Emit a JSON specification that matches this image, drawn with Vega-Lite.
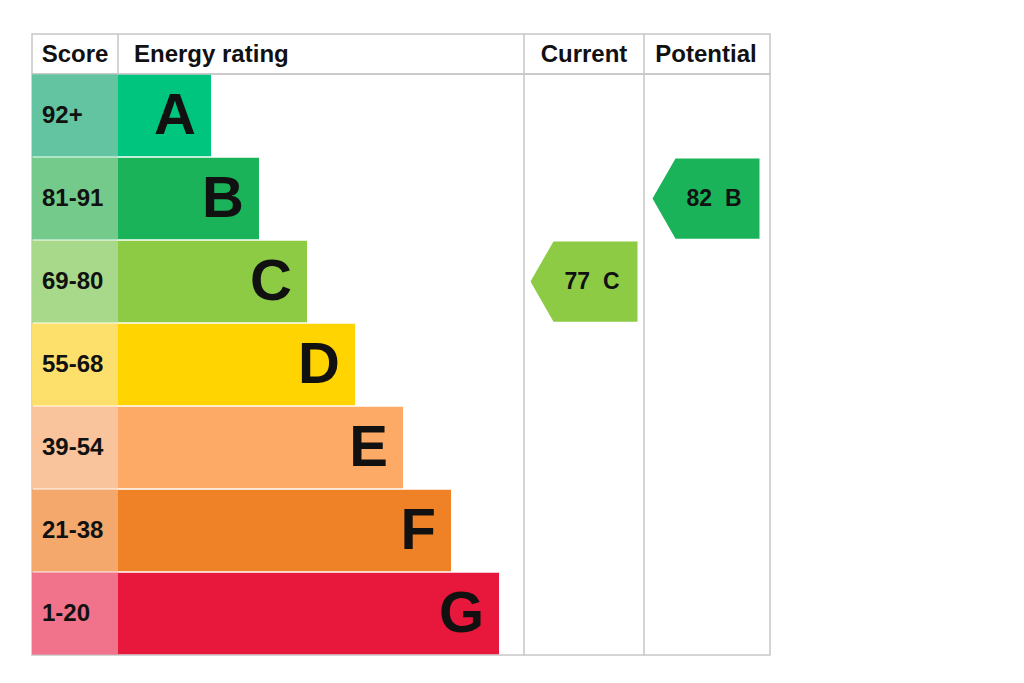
{
  "$schema": "https://vega.github.io/schema/vega-lite/v6.json",
  "padding": {"left": 31, "top": 32, "right": 0, "bottom": 0},
  "background": "white",
  "spacing": 0,
  "bounds": "flush",
  "config": {
    "view": {"stroke": "#c6c6c6", "strokeWidth": 1.5},
    "font": "Liberation Sans, Arial, sans-serif"
  },
  "datasets": {
    "columns": [
      {"column": "Score", "start": 0, "end": 86, "center": 43},
      {"column": "Energy rating", "start": 86, "end": 492, "center": 289},
      {"column": "Current", "start": 492, "end": 612, "center": 552},
      {"column": "Potential", "start": 612, "end": 738, "center": 674}
    ],
    "bands": [
      {"rating": "A", "score": "92+", "scoreColumn": "Score", "length": 179},
      {"rating": "B", "score": "81-91", "scoreColumn": "Score", "length": 227},
      {"rating": "C", "score": "69-80", "scoreColumn": "Score", "length": 275},
      {"rating": "D", "score": "55-68", "scoreColumn": "Score", "length": 323},
      {"rating": "E", "score": "39-54", "scoreColumn": "Score", "length": 371},
      {"rating": "F", "score": "21-38", "scoreColumn": "Score", "length": 419},
      {"rating": "G", "score": "1-20", "scoreColumn": "Score", "length": 467}
    ],
    "arrows": [
      {"rating": "C", "column": "Current", "label": "77\u00a0\u00a0C"},
      {"rating": "B", "column": "Potential", "label": "82\u00a0\u00a0B"}
    ]
  },
  "vconcat": [
    {
      "width": 738,
      "height": 40,
      "data": {"name": "columns"},
      "layer": [
        {
          "transform": [{"filter": "datum.start > 0"}],
          "mark": {"type": "rule", "color": "#c6c6c6", "strokeWidth": 1.5},
          "encoding": {
            "x": {"field": "start", "type": "quantitative", "scale": {"domain": [0, 738], "nice": false, "zero": false}, "axis": null}
          }
        },
        {
          "transform": [{"filter": "datum.column != 'Energy rating'"}],
          "mark": {"type": "text", "align": "center", "baseline": "middle", "fontSize": 24, "fontWeight": "bold", "color": "#111111", "dy": 1},
          "encoding": {
            "x": {"field": "center", "type": "quantitative"},
            "text": {"field": "column", "type": "nominal"}
          }
        },
        {
          "transform": [{"filter": "datum.column == 'Energy rating'"}],
          "mark": {"type": "text", "align": "left", "baseline": "middle", "fontSize": 24, "fontWeight": "bold", "color": "#111111", "dx": 16, "dy": 1},
          "encoding": {
            "x": {"field": "start", "type": "quantitative"},
            "text": {"field": "column", "type": "nominal"}
          }
        }
      ]
    },
    {
      "width": 738,
      "height": 581,
      "encoding": {
        "y": {"field": "rating", "type": "nominal", "axis": null,
              "scale": {"domain": ["A", "B", "C", "D", "E", "F", "G"], "paddingInner": 0.02, "paddingOuter": 0.01}}
      },
      "layer": [
        {
          "data": {"name": "bands"},
          "mark": {"type": "bar", "orient": "horizontal"},
          "encoding": {
            "x": {"field": "length", "type": "quantitative", "scale": {"domain": [0, 738], "nice": false, "zero": true}, "axis": null},
            "color": {"field": "rating", "type": "nominal", "legend": null,
                      "scale": {"domain": ["A", "B", "C", "D", "E", "F", "G"],
                                "range": ["#00c57f", "#1ab35a", "#8dcb45", "#ffd400", "#fcaa65", "#ef8126", "#e8173c"]}}
          }
        },
        {
          "data": {"name": "bands"},
          "transform": [
            {"lookup": "scoreColumn", "from": {"data": {"name": "columns"}, "key": "column", "fields": ["start", "end"]}}
          ],
          "mark": {"type": "rect"},
          "encoding": {
            "x": {"field": "start", "type": "quantitative"},
            "x2": {"field": "end"},
            "fill": {"field": "rating", "type": "nominal", "legend": null,
                     "scale": {"domain": ["A", "B", "C", "D", "E", "F", "G"],
                               "range": ["#62c4a0", "#74ca8b", "#a8d98a", "#fde06c", "#f9c39c", "#f4a86c", "#f0738b"]}}
          }
        },
        {
          "data": {"name": "bands"},
          "transform": [
            {"lookup": "scoreColumn", "from": {"data": {"name": "columns"}, "key": "column", "fields": ["start"]}}
          ],
          "mark": {"type": "text", "align": "left", "baseline": "middle", "fontSize": 24, "fontWeight": "bold", "color": "#111111", "dx": 10},
          "encoding": {
            "x": {"field": "start", "type": "quantitative"},
            "text": {"field": "score", "type": "nominal"}
          }
        },
        {
          "data": {"name": "bands"},
          "mark": {"type": "text", "align": "right", "baseline": "middle", "fontSize": 58, "fontWeight": "bold", "color": "#111111", "dx": -15, "dy": 1},
          "encoding": {
            "x": {"field": "length", "type": "quantitative"},
            "text": {"field": "rating", "type": "nominal"}
          }
        },
        {
          "data": {"name": "columns"},
          "transform": [{"filter": "datum.start > 100"}],
          "mark": {"type": "rule", "color": "#c6c6c6", "strokeWidth": 1.5},
          "encoding": {
            "x": {"field": "start", "type": "quantitative"},
            "y": null
          }
        },
        {
          "data": {"name": "arrows"},
          "transform": [
            {"lookup": "column", "from": {"data": {"name": "columns"}, "key": "column", "fields": ["center"]}}
          ],
          "mark": {"type": "point", "filled": true, "opacity": 1, "size": 11449,
                   "shape": "M-1,0L-0.57,-0.75L1,-0.75L1,0.75L-0.57,0.75Z"},
          "encoding": {
            "x": {"field": "center", "type": "quantitative"},
            "color": {"field": "rating", "type": "nominal", "legend": null}
          }
        },
        {
          "data": {"name": "arrows"},
          "transform": [
            {"lookup": "column", "from": {"data": {"name": "columns"}, "key": "column", "fields": ["center"]}}
          ],
          "mark": {"type": "text", "align": "center", "baseline": "middle", "fontSize": 23, "fontWeight": "bold", "color": "#111111", "dx": 8},
          "encoding": {
            "x": {"field": "center", "type": "quantitative"},
            "text": {"field": "label", "type": "nominal"}
          }
        }
      ]
    }
  ]
}
